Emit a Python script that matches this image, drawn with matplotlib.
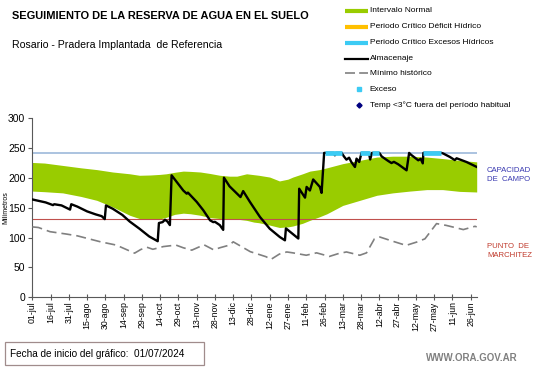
import matplotlib
matplotlib.use("Agg")
import matplotlib.pyplot as plt
from matplotlib.lines import Line2D
from matplotlib.patches import Rectangle

plt.rcParams['font.family'] = ['Liberation Sans', 'DejaVu Sans']

W, H = 541, 368

# eje x: dias desde 01/07/2024
tick_days = [0, 15, 30, 45, 60, 75, 90, 105, 120, 135, 150, 165, 180,
             195, 210, 225, 240, 255, 270, 285, 300, 315, 330, 345, 360]
tick_labels = ['01-jul', '16-jul', '31-jul', '15-ago', '30-ago', '14-sep', '29-sep',
               '14-oct', '29-oct', '13-nov', '28-nov', '13-dic', '28-dic', '12-ene',
               '27-ene', '11-feb', '26-feb', '13-mar', '28-mar', '12-abr', '27-abr',
               '12-may', '27-may', '11-jun', '26-jun']

capacidad_campo = 242
punto_marchitez = 131

# intervalo normal
band_days = [0, 10, 25, 40, 53, 66, 80, 88, 97, 105, 110, 117, 124, 130, 138, 146,
             154, 162, 168, 176, 182, 186, 195, 203, 210, 214, 222, 228, 236, 242,
             255, 269, 283, 296, 310, 324, 337, 351, 365]
band_upper = [226, 225, 221, 217, 214, 210, 207, 204.5, 205, 206, 207, 209.5, 211.5,
              211, 210, 207.5, 204.5, 203, 203, 207, 205.5, 204.5, 201.5, 195, 198,
              201.5, 207, 211.5, 214, 217, 224, 229.5, 235, 236.5, 236.5, 235, 232.5,
              229.5, 227]
band_lower = [178, 177, 175, 169, 162.5, 151.5, 137.5, 132, 131, 131.5, 134, 139, 141,
              140, 137.5, 133.5, 132, 131.5, 131, 129, 126, 125, 121, 117, 118, 119.5,
              124, 129, 135, 140, 154, 162.5, 171, 175, 178, 180.5, 180.5, 177.5, 176.5]

# almacenaje
alm_days = [0, 11, 17, 18, 24, 31, 32, 37, 45, 52, 57, 59.5, 60.5, 66, 74, 80, 88, 96,
            103, 104, 107, 109, 111, 113, 114.4, 124, 126.8, 127.8, 135, 140.4, 146,
            148.6, 150, 154, 156.8, 157.4, 162, 168, 171, 173.2, 178.7, 187, 195, 203.3,
            207.5, 208.3, 217, 218.5, 219.2, 224, 225.3, 228, 230.7, 236.2, 237.6, 239.7,
            247.5, 248.5, 249.5, 254, 256, 258, 260.2, 262, 265, 266.3, 268.5, 270.4,
            276.5, 277.5, 279, 285, 287, 292.3, 295, 297, 300.5, 307.4, 309.5, 311, 317,
            319, 320.7, 321.2, 336, 337.5, 343, 347, 348.5, 356.6, 365]
alm_vals = [164, 159, 154.5, 156, 154, 147, 156, 152, 144, 139, 136, 131, 154, 148.5,
            138, 127, 115, 102, 94, 124.5, 126, 130, 127, 121, 204.5, 179, 173.7, 175.5,
            160, 146, 129, 126, 126.5, 121, 113, 200.5, 186, 174, 168, 178, 160, 134.6,
            115, 101, 95.5, 115.5, 101, 98.5, 182, 167, 185, 179, 197.5, 185, 175, 242,
            242, 238, 242, 242, 236, 230.7, 234, 226.8, 218.4, 232.4, 226.8, 242, 242,
            231, 242, 242, 236, 228.5, 225, 227, 223, 212.8, 242, 239, 229.6, 232, 224.5,
            242, 242, 241, 235.2, 230, 233, 226.8, 218.5]

# minimo historico
min_days = [0, 5, 14.5, 28, 37, 56, 69, 84, 89, 94, 99, 102, 107.6, 118, 124, 131, 141,
            149, 154, 162, 165, 179, 192, 196, 203, 209, 214, 225, 233.5, 244, 251, 258,
            269, 274.5, 281, 285.5, 296, 307, 315.6, 322.5, 332, 340, 354, 363.6, 365]
min_vals = [118, 117, 110, 106, 103, 93, 87.5, 74, 80, 84, 80.5, 82, 85, 87.5, 83, 79,
            88, 79.5, 83, 87.5, 93, 76.5, 68, 63.5, 72.5, 76, 74.5, 70.5, 74.5, 68.5, 73,
            76, 70.5, 74.5, 98, 101, 94, 87, 92.5, 98, 123.5, 120.5, 113.5, 119, 118]

# periodos con exceso (dia inicio, dia fin)
exceso_periodos = [(240, 254), (269, 277), (279, 285), (321, 336)]

GREEN = '#99CC00'
CYAN = '#3CCBF4'

fig = plt.figure(figsize=(W / 100, H / 100), dpi=100)
ax = fig.add_axes([32.3 / W, 1 - 297.3 / H, (476.7 - 32.3) / W, (297.3 - 118.3) / H])

ax.fill_between(band_days, band_lower, band_upper, color=GREEN, lw=0, zorder=1)
ax.axhline(capacidad_campo, color='#95B3D7', lw=1.1, zorder=2)
ax.axhline(punto_marchitez, color='#C0504D', lw=0.8, zorder=2)
ax.plot(min_days, min_vals, color='#808080', lw=1.2, dashes=(6, 3), zorder=3)
ax.plot(alm_days, alm_vals, color='black', lw=1.7, zorder=4)
for d0, d1 in exceso_periodos:
    ax.plot([d0, d1], [capacidad_campo, capacidad_campo], color=CYAN, lw=3.4,
            solid_capstyle='butt', zorder=5)

ax.set_xlim(0, 365)
ax.set_ylim(0, 300)
ax.set_xticks(tick_days)
ax.set_xticklabels(tick_labels, rotation=90, fontsize=6.3)
ax.set_yticks(range(0, 301, 50))
ax.tick_params(axis='y', labelsize=7.5, length=3, color='#595959', pad=2)
ax.tick_params(axis='x', direction='inout', length=4, color='#595959', pad=1)
ax.set_ylabel('Milímetros', fontsize=5)
ax.yaxis.set_label_coords(-0.052, 0.5)
for s in ['top', 'right']:
    ax.spines[s].set_visible(False)
for s in ['left', 'bottom']:
    ax.spines[s].set_color('#595959')
    ax.spines[s].set_linewidth(0.8)


def fx(px):
    return px / W


def fy(py):
    return 1 - py / H


fig.text(fx(12), fy(16), 'SEGUIMIENTO DE LA RESERVA DE AGUA EN EL SUELO',
         fontsize=7.9, fontweight='bold', va='center', ha='left')
fig.text(fx(12), fy(45), 'Rosario - Pradera Implantada  de Referencia',
         fontsize=7.6, va='center', ha='left')

# leyenda
leg = [
    ('bar', GREEN, 'Intervalo Normal'),
    ('bar', '#FFC000', 'Periodo Crítico Déficit Hídrico'),
    ('bar', CYAN, 'Periodo Crítico Excesos Hídricos'),
    ('line', 'black', 'Almacenaje'),
    ('dash', '#808080', 'Mínimo histórico'),
    ('dot', CYAN, 'Exceso'),
    ('diamond', '#000080', 'Temp <3°C fuera del período habitual'),
]
leg_y = [11, 26.7, 42.7, 58.7, 73.3, 89.3, 105]
for (kind, col, txt), py in zip(leg, leg_y):
    if kind == 'bar':
        fig.add_artist(Line2D([fx(345), fx(368)], [fy(py), fy(py)], color=col, lw=3,
                              solid_capstyle='butt'))
    elif kind == 'line':
        fig.add_artist(Line2D([fx(345), fx(368)], [fy(py), fy(py)], color=col, lw=1.6))
    elif kind == 'dash':
        fig.add_artist(Line2D([fx(345), fx(368)], [fy(py), fy(py)], color=col, lw=1.2,
                              dashes=(6, 2.5)))
    elif kind == 'dot':
        fig.add_artist(Line2D([fx(359)], [fy(py)], color=col, marker='s', ms=2.2, lw=0))
    else:
        fig.add_artist(Line2D([fx(359)], [fy(py)], color=col, marker='D', ms=2.6, lw=0))
    fig.text(fx(369.5), fy(py), txt, fontsize=6, va='center', ha='left')

fig.text(fx(487), fy(170.7), 'CAPACIDAD', fontsize=5.6, color='#3838B0', va='center')
fig.text(fx(487), fy(179.5), 'DE  CAMPO', fontsize=5.6, color='#3838B0', va='center')
fig.text(fx(487), fy(246.7), 'PUNTO  DE', fontsize=5.6, color='#C0392B', va='center')
fig.text(fx(487), fy(255.5), 'MARCHITEZ', fontsize=5.6, color='#C0392B', va='center')

fig.add_artist(Rectangle((fx(5), fy(365)), fx(204) - fx(5), fy(342) - fy(365),
                         transform=fig.transFigure, fill=False, ec='#A08C8C', lw=0.9))
fig.text(fx(10), fy(354), 'Fecha de inicio del gráfico:  01/07/2024', fontsize=7.2,
         va='center', ha='left')
fig.text(fx(518), fy(358), 'WWW.ORA.GOV.AR', fontsize=7, fontweight='bold',
         color='#808080', va='center', ha='right')

fig.savefig('out.png', dpi=100)
